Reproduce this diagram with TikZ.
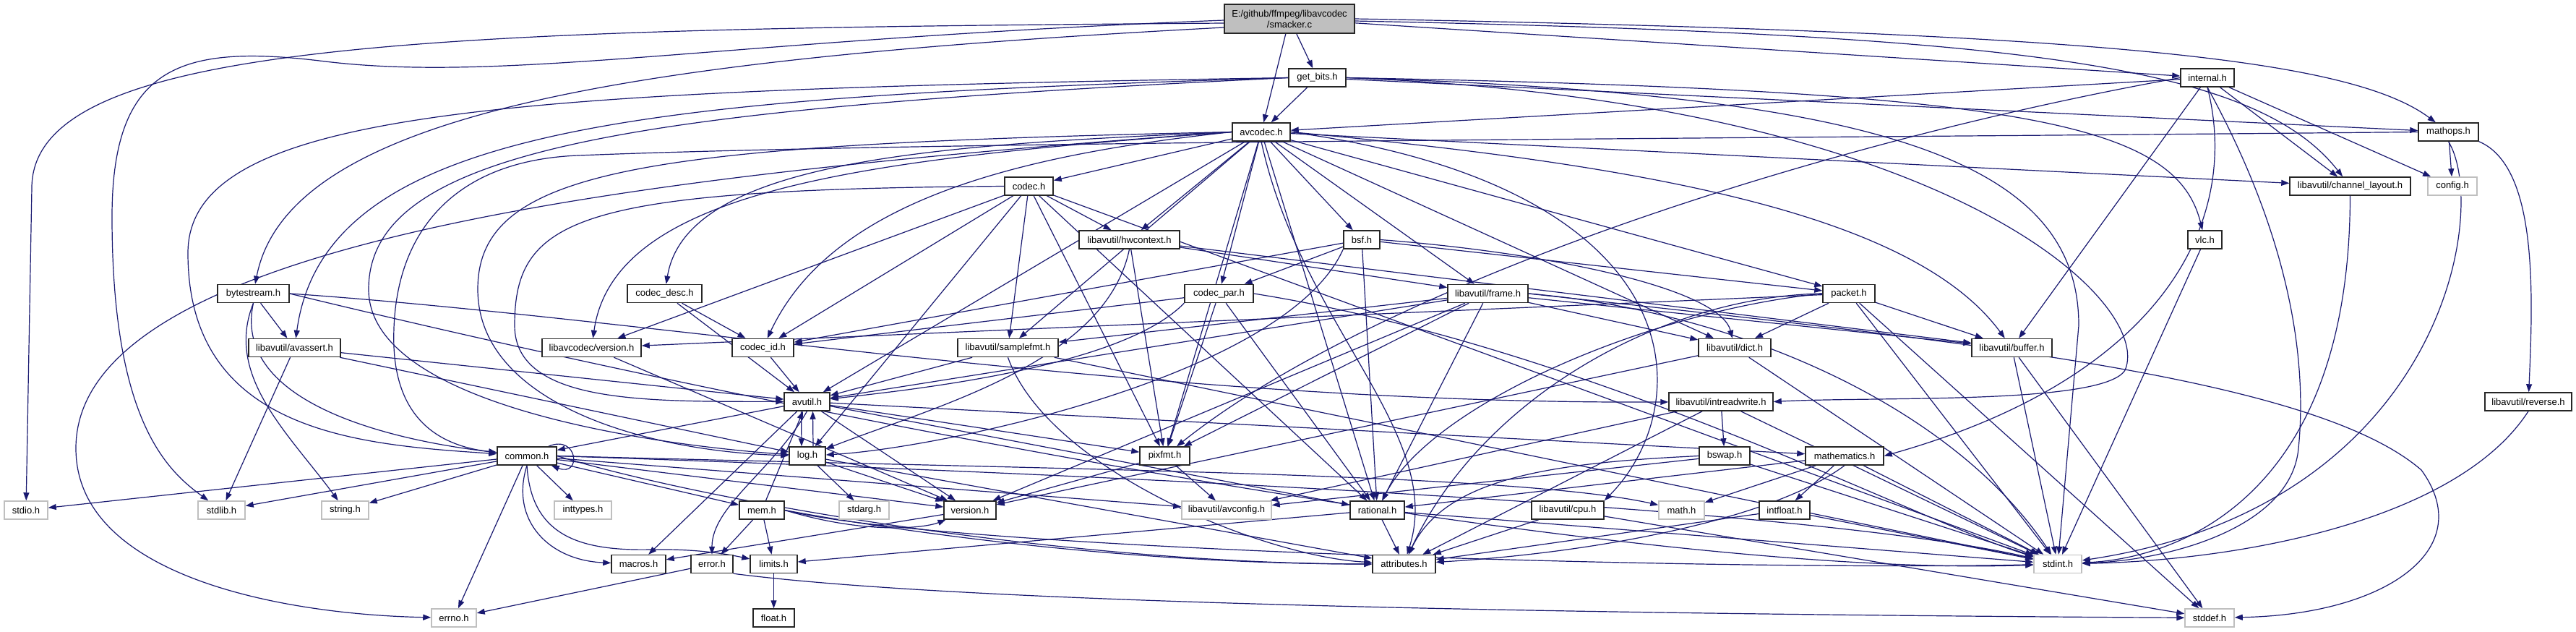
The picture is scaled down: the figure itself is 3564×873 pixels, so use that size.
\documentclass[tikz,border=0pt]{standalone}
\usepackage{fontspec}
\setmainfont{Liberation Sans}
\usetikzlibrary{arrows.meta,backgrounds}
\definecolor{edgecol}{HTML}{191970}
\definecolor{smgray}{HTML}{BFBFBF}
\definecolor{sysgray}{HTML}{BFBFBF}
\begin{document}
\begin{tikzpicture}[x=1pt,y=-1pt,
  nbox/.style={draw=black!85,line width=1.5pt,fill=white,minimum height=25pt,inner sep=0pt,font=\fontsize{13}{15}\selectfont},
  sbox/.style={nbox,draw=sysgray},
  dep/.style={draw=edgecol,line width=1.2pt,-{Triangle[length=11pt,width=8pt]}}]
\useasboundingbox (0,0) rectangle (3564,873);
% nodes
\node[nbox,fill=smgray,minimum width=180pt,minimum height=40pt,align=center] (smacker) at (1784,26) {E:/github/ffmpeg/libavcodec\\/smacker.c};
\node[nbox,minimum width=79pt] (getbits) at (1822.5,107.5) {get\_bits.h};
\node[nbox,minimum width=74pt] (internal) at (3054,107.5) {internal.h};
\node[nbox,minimum width=80pt] (avcodec) at (1745,182.5) {avcodec.h};
\node[nbox,minimum width=83pt] (mathops) at (3387.5,182.5) {mathops.h};
\node[nbox,minimum width=67pt] (codec) at (1423.5,257.5) {codec.h};
\node[nbox,minimum width=167pt] (chlayout) at (3251.5,257.5) {libavutil/channel\_layout.h};
\node[sbox,minimum width=68pt] (config) at (3393,257.5) {config.h};
\node[nbox,minimum width=139pt] (hwctx) at (1562.5,331.5) {libavutil/hwcontext.h};
\node[nbox,minimum width=50pt] (bsf) at (1884,331.5) {bsf.h};
\node[nbox,minimum width=47pt] (vlc) at (3050.5,331.5) {vlc.h};
\node[nbox,minimum width=99pt] (bytestream) at (350.5,406) {bytestream.h};
\node[nbox,minimum width=103pt] (codecdesc) at (919.5,406) {codec\_desc.h};
\node[nbox,minimum width=95pt] (codecpar) at (1686.5,406) {codec\_par.h};
\node[nbox,minimum width=111pt] (frame) at (2058.5,406) {libavutil/frame.h};
\node[nbox,minimum width=72pt] (packet) at (2558,406) {packet.h};
\node[nbox,minimum width=127pt] (avassert) at (407.5,481) {libavutil/avassert.h};
\node[nbox,minimum width=137pt] (lavcver) at (818.5,481) {libavcodec/version.h};
\node[nbox,minimum width=85pt] (codecid) at (1055.5,481) {codec\_id.h};
\node[nbox,minimum width=139pt] (samplefmt) at (1394.5,481) {libavutil/samplefmt.h};
\node[nbox,minimum width=100pt] (dict) at (2400,481) {libavutil/dict.h};
\node[nbox,minimum width=111pt] (buffer) at (2783.5,481) {libavutil/buffer.h};
\node[nbox,minimum width=63pt] (avutil) at (1116.5,555.5) {avutil.h};
\node[nbox,minimum width=144pt] (intrw) at (2381,555.5) {libavutil/intreadwrite.h};
\node[nbox,minimum width=120pt] (reverse) at (3498,555.5) {libavutil/reverse.h};
\node[nbox,minimum width=82pt] (common) at (729,630.5) {common.h};
\node[nbox,minimum width=50pt] (logh) at (1117,630.5) {log.h};
\node[nbox,minimum width=69pt] (pixfmt) at (1611.5,630.5) {pixfmt.h};
\node[nbox,minimum width=70pt] (bswap) at (2386,630.5) {bswap.h};
\node[nbox,minimum width=108pt] (mathem) at (2552,630.5) {mathematics.h};
\node[sbox,minimum width=60pt] (stdio) at (36,705.5) {stdio.h};
\node[sbox,minimum width=65pt] (stdlib) at (306.5,705.5) {stdlib.h};
\node[sbox,minimum width=65pt] (stringh) at (477.5,705.5) {string.h};
\node[sbox,minimum width=79pt] (inttypes) at (806.5,705.5) {inttypes.h};
\node[nbox,minimum width=62pt] (mem) at (1054,705.5) {mem.h};
\node[sbox,minimum width=69pt] (stdarg) at (1195.5,705.5) {stdarg.h};
\node[nbox,minimum width=72pt] (version) at (1342,705.5) {version.h};
\node[sbox,minimum width=124pt] (avconfig) at (1697,705.5) {libavutil/avconfig.h};
\node[nbox,minimum width=75pt] (rational) at (1905.5,705.5) {rational.h};
\node[nbox,minimum width=100pt] (cpu) at (2169,705.5) {libavutil/cpu.h};
\node[sbox,minimum width=63pt] (mathh) at (2326.5,705.5) {math.h};
\node[nbox,minimum width=70pt] (intfloat) at (2469,705.5) {intfloat.h};
\node[nbox,minimum width=75pt] (macros) at (883.5,780) {macros.h};
\node[nbox,minimum width=58pt] (errorh) at (985,780) {error.h};
\node[nbox,minimum width=65pt] (limits) at (1070.5,780) {limits.h};
\node[nbox,minimum width=87pt] (attributes) at (1942.5,780) {attributes.h};
\node[sbox,minimum width=66pt] (stdint) at (2847,780) {stdint.h};
\node[sbox,minimum width=62pt] (errno) at (628,854.5) {errno.h};
\node[nbox,minimum width=57pt] (floath) at (1070.5,854.5) {float.h};
\node[sbox,minimum width=68pt] (stddef) at (3057,854.5) {stddef.h};

\begin{pgfonlayer}{background}
\fill[white] (0,0) rectangle (3564,873);
% smacker.c
\draw[dep] ([yshift=-6pt]smacker.west) .. controls (600,40) and (44,55) .. (44,260) -- (stdio);
\draw[dep] ([yshift=-2pt]smacker.west) .. controls (1000,55) and (700,115) .. (450,85) .. controls (250,60) and (155,90) .. (155,300) .. controls (155,580) and (230,650) .. (stdlib);
\draw[dep] ([yshift=-12pt]smacker.west) .. controls (900,80) and (400,150) .. (bytestream);
\draw[dep] (smacker) -- (avcodec);
\draw[dep] (smacker) -- (getbits);
\draw[dep] (smacker) -- (internal);
\draw[dep] (smacker.east) .. controls (2900,45) and (3250,80) .. (mathops);
\draw[dep] ([yshift=-3pt]smacker.east) .. controls (2800,48) and (3120,90) .. (chlayout);
% get_bits.h
\draw[dep] (getbits) -- (avcodec);
\draw[dep] (getbits) -- (mathops);
\draw[dep] (getbits.east) .. controls (2800,125) and (3010,170) .. (vlc);
\draw[dep] (getbits.east) .. controls (2700,140) and (2980,420) .. (2940,512) .. controls (2910,560) and (2600,548) .. (intrw.east);
\draw[dep] (getbits.east) .. controls (2600,130) and (2876,220) .. (2876,450) -- (stdint);
\draw[dep] (getbits.west) .. controls (700,125) and (260,150) .. (260,350) .. controls (260,600) and (500,615) .. (common);
\draw[dep] (getbits.west) .. controls (900,135) and (450,170) .. (avassert);
\draw[dep] (getbits.west) .. controls (900,150) and (510,200) .. (510,400) .. controls (510,560) and (900,615) .. (logh);
% internal.h
\draw[dep] (internal) -- (avcodec);
\draw[dep] (internal.west) .. controls (2500,200) and (1900,400) .. (pixfmt);
\draw[dep] (internal) -- (buffer);
\draw[dep] (internal) -- (chlayout);
\draw[dep] (internal.south) .. controls (3100,300) and (3000,520) .. (mathem.east);
\draw[dep] (internal.south) .. controls (3180,350) and (3190,520) .. (3180,620) .. controls (3170,730) and (3000,775) .. (stdint);
\draw[dep] (internal) -- (config);
% avcodec.h
\draw[dep] (avcodec.west) .. controls (900,240) and (105,330) .. (105,620) .. controls (105,800) and (400,850) .. (errno);
\draw[dep] (avcodec) -- (samplefmt);
\draw[dep] (avcodec.south) .. controls (1800,450) and (2000,600) .. (attributes);
\draw[dep] (avcodec) -- (avutil);
\draw[dep] (avcodec.east) .. controls (2300,230) and (2650,300) .. (buffer);
\draw[dep] (avcodec.east) .. controls (2350,260) and (2350,560) .. (cpu.north east);
\draw[dep] (avcodec) -- (chlayout);
\draw[dep] (avcodec) -- (dict);
\draw[dep] (avcodec) -- (frame);
\draw[dep] (avcodec) -- (hwctx);
\draw[dep] (avcodec.west) .. controls (900,200) and (661,230) .. (661,400) .. controls (661,560) and (900,625) .. (logh);
\draw[dep] (avcodec) -- (pixfmt);
\draw[dep] (avcodec) -- (rational);
\draw[dep] (avcodec) -- (bsf);
\draw[dep] (avcodec) -- (codec);
\draw[dep] (avcodec.west) .. controls (1300,200) and (950,220) .. (codecdesc);
\draw[dep] (avcodec) -- (codecpar);
\draw[dep] (avcodec.west) .. controls (1400,215) and (1150,280) .. (codecid);
\draw[dep] (avcodec) -- (packet);
\draw[dep] (avcodec.west) .. controls (1200,220) and (850,260) .. (lavcver);
% mathops.h
\draw[dep] (mathops.west) .. controls (2400,192) and (1300,195) .. (800,215) .. controls (620,222) and (540,330) .. (545,480) .. controls (550,590) and (620,618) .. (common);
\draw[dep] (mathops) -- (config);
\draw[dep] (mathops.south east) .. controls (3510,230) and (3505,400) .. (reverse);
\draw[dep] (mathops.south) .. controls (3445,290) and (3380,700) .. (stdint);
% codec.h
\draw[dep] (codec) -- (stdint);
\draw[dep] (codec.west) .. controls (800,262) and (712,300) .. (712,450) .. controls (712,560) and (900,555) .. (avutil);
\draw[dep] (codec) -- (hwctx);
\draw[dep] (codec) -- (logh);
\draw[dep] (codec) -- (pixfmt);
\draw[dep] (codec) -- (rational);
\draw[dep] (codec) -- (samplefmt);
\draw[dep] (codec) -- (codecid);
\draw[dep] (codec) -- (lavcver);
% hwcontext.h
\draw[dep] (hwctx) -- (buffer);
\draw[dep] (hwctx) -- (frame);
\draw[dep] (hwctx.south) .. controls (1530,500) and (1300,560) .. (logh);
\draw[dep] (hwctx) -- (pixfmt);
% bsf.h
\draw[dep] (bsf.east) .. controls (2150,350) and (2380,400) .. (dict);
\draw[dep] (bsf.south west) .. controls (1780,520) and (1300,620) .. (logh);
\draw[dep] (bsf) -- (rational);
\draw[dep] (bsf) -- (codecid);
\draw[dep] (bsf) -- (codecpar);
\draw[dep] (bsf) -- (packet);
% codec_desc.h
\draw[dep] (codecdesc) -- (avutil);
\draw[dep] (codecdesc) -- (codecid);
% codec_par.h
\draw[dep] (codecpar.east) .. controls (2200,480) and (2650,720) .. (stdint);
\draw[dep] (codecpar.south west) .. controls (1550,510) and (1250,540) .. (avutil);
\draw[dep] (codecpar) -- (rational);
\draw[dep] (codecpar) -- (pixfmt);
\draw[dep] (codecpar) -- (codecid);
% frame.h
\draw[dep] (frame.east) .. controls (2700,470) and (3200,520) .. (3350,650) .. controls (3430,760) and (3300,850) .. (stddef);
\draw[dep] (frame.east) .. controls (2400,430) and (2700,560) .. (stdint);
\draw[dep] (frame) -- (avutil);
\draw[dep] (frame) -- (buffer);
\draw[dep] (frame) -- (dict);
\draw[dep] (frame) -- (rational);
\draw[dep] (frame) -- (samplefmt);
\draw[dep] (frame) -- (pixfmt);
\draw[dep] (frame) -- (version);
% packet.h
\draw[dep] (packet) -- (stddef);
\draw[dep] (packet) -- (stdint);
\draw[dep] (packet.west) .. controls (2300,410) and (2050,550) .. (attributes);
\draw[dep] (packet) -- (buffer);
\draw[dep] (packet) -- (dict);
\draw[dep] (packet.west) .. controls (2280,430) and (1980,560) .. (rational);
\draw[dep] (packet) -- (lavcver);
% avassert.h
\draw[dep] (avassert) -- (stdlib);
\draw[dep] (avassert) -- (avutil);
\draw[dep] (avassert) -- (logh);
\draw[dep] (lavcver) -- (version);
\draw[dep] (codecid) -- (avutil);
% samplefmt.h
\draw[dep] (samplefmt) -- (stdint);
\draw[dep] (samplefmt) -- (avutil);
\draw[dep] (samplefmt.south) .. controls (1450,650) and (1750,770) .. (attributes);
\draw[dep] (dict) -- (stdint);
\draw[dep] (dict) -- (version);
\draw[dep] (buffer) -- (stddef);
\draw[dep] (buffer) -- (stdint);
% avutil.h
\draw[dep] (avutil) -- (common);
\draw[dep] (avutil.south) .. controls (1070,650) and (985,700) .. (errorh);
\draw[dep] (avutil) -- (rational);
\draw[dep] (avutil) -- (version);
\draw[dep] (avutil) -- (macros);
\draw[dep] (avutil) -- (mathem);
\draw[dep] ([xshift=-8pt]avutil.south) -- ([xshift=-8pt]logh.north);
\draw[dep] (avutil) -- (pixfmt);
% intreadwrite.h
\draw[dep] (intrw) -- (stdint);
\draw[dep] (intrw) -- (avconfig);
\draw[dep] (intrw) -- (attributes);
\draw[dep] (intrw) -- (bswap);
\draw[dep] (reverse.south) .. controls (3400,720) and (3100,775) .. (stdint);
% common.h
\draw[dep] (common) -- (errno);
\draw[dep] (common) -- (inttypes);
\draw[dep] (common.south) .. controls (735,740) and (800,762) .. (900,760) .. controls (960,759) and (1000,765) .. (limits);
\draw[dep] (common.east) .. controls (1500,650) and (2100,655) .. (mathh);
\draw[dep] (common.east) .. controls (1500,655) and (2500,700) .. (stdint);
\draw[dep] (common) -- (stdio);
\draw[dep] (common) -- (stdlib);
\draw[dep] (common) -- (stringh);
\draw[dep] (common.east) .. controls (1000,700) and (1500,780) .. (attributes);
\draw[dep] (common.south) .. controls (705,720) and (760,775) .. (macros);
\draw[dep] (common) -- (version);
\draw[dep] (common) -- (avconfig);
\draw[dep] (common) -- (mem);
\draw[dep] ([xshift=-12pt]common.north east) .. controls (800,600) and (805,660) .. ([xshift=-8pt]common.south east);
% log.h
\draw[dep] (logh) -- (stdarg);
\draw[dep] ([xshift=8pt]logh.north) -- ([xshift=8pt]avutil.south);
\draw[dep] (logh) -- (attributes);
\draw[dep] (logh) -- (version);
\draw[dep] (pixfmt) -- (avconfig);
\draw[dep] (pixfmt) -- (version);
% bswap.h
\draw[dep] (bswap) -- (stdint);
\draw[dep] (bswap) -- (avconfig);
\draw[dep] (bswap.west) .. controls (2150,640) and (2000,660) .. (attributes);
% mathematics.h
\draw[dep] (mathem) -- (stdint);
\draw[dep] (mathem) -- (mathh);
\draw[dep] (mathem.south) .. controls (2450,720) and (2200,765) .. (attributes);
\draw[dep] (mathem) -- (rational);
\draw[dep] (mathem) -- (intfloat);
% mem.h
\draw[dep] (mem) -- (limits);
\draw[dep] (mem.east) .. controls (1300,760) and (2400,790) .. (stdint);
\draw[dep] (mem.east) .. controls (1300,745) and (1600,780) .. (attributes);
\draw[dep] (mem) -- (errorh);
\draw[dep] (mem) -- (avutil);
\draw[dep] (mem.east) .. controls (1200,740) and (1280,730) .. (version);
% misc
\draw[dep] (version) -- (macros);
\draw[dep] (rational) -- (stdint);
\draw[dep] (rational) -- (limits);
\draw[dep] (rational) -- (attributes);
\draw[dep] (cpu) -- (stddef);
\draw[dep] (cpu) -- (attributes);
\draw[dep] (intfloat) -- (stdint);
\draw[dep] (intfloat) -- (attributes);
\draw[dep] (errorh) -- (errno);
\draw[dep] (errorh.south east) .. controls (1300,830) and (2000,848) .. (stddef);
\draw[dep] (limits) -- (floath);
\draw[dep] (vlc) -- (stdint);
\draw[dep] (chlayout.south) .. controls (3251,700) and (3000,772) .. (stdint);
% bytestream.h
\draw[dep] (bytestream) -- (avassert);
\draw[dep] (bytestream.south) .. controls (320,560) and (550,610) .. (common);
\draw[dep] (bytestream.south) .. controls (310,520) and (400,600) .. (stringh);
\draw[dep] (bytestream.east) .. controls (1200,600) and (2300,800) .. (stdint);
\draw[dep] (bytestream.east) .. controls (900,440) and (1600,560) .. (intrw);
\end{pgfonlayer}
\end{tikzpicture}
\end{document}
